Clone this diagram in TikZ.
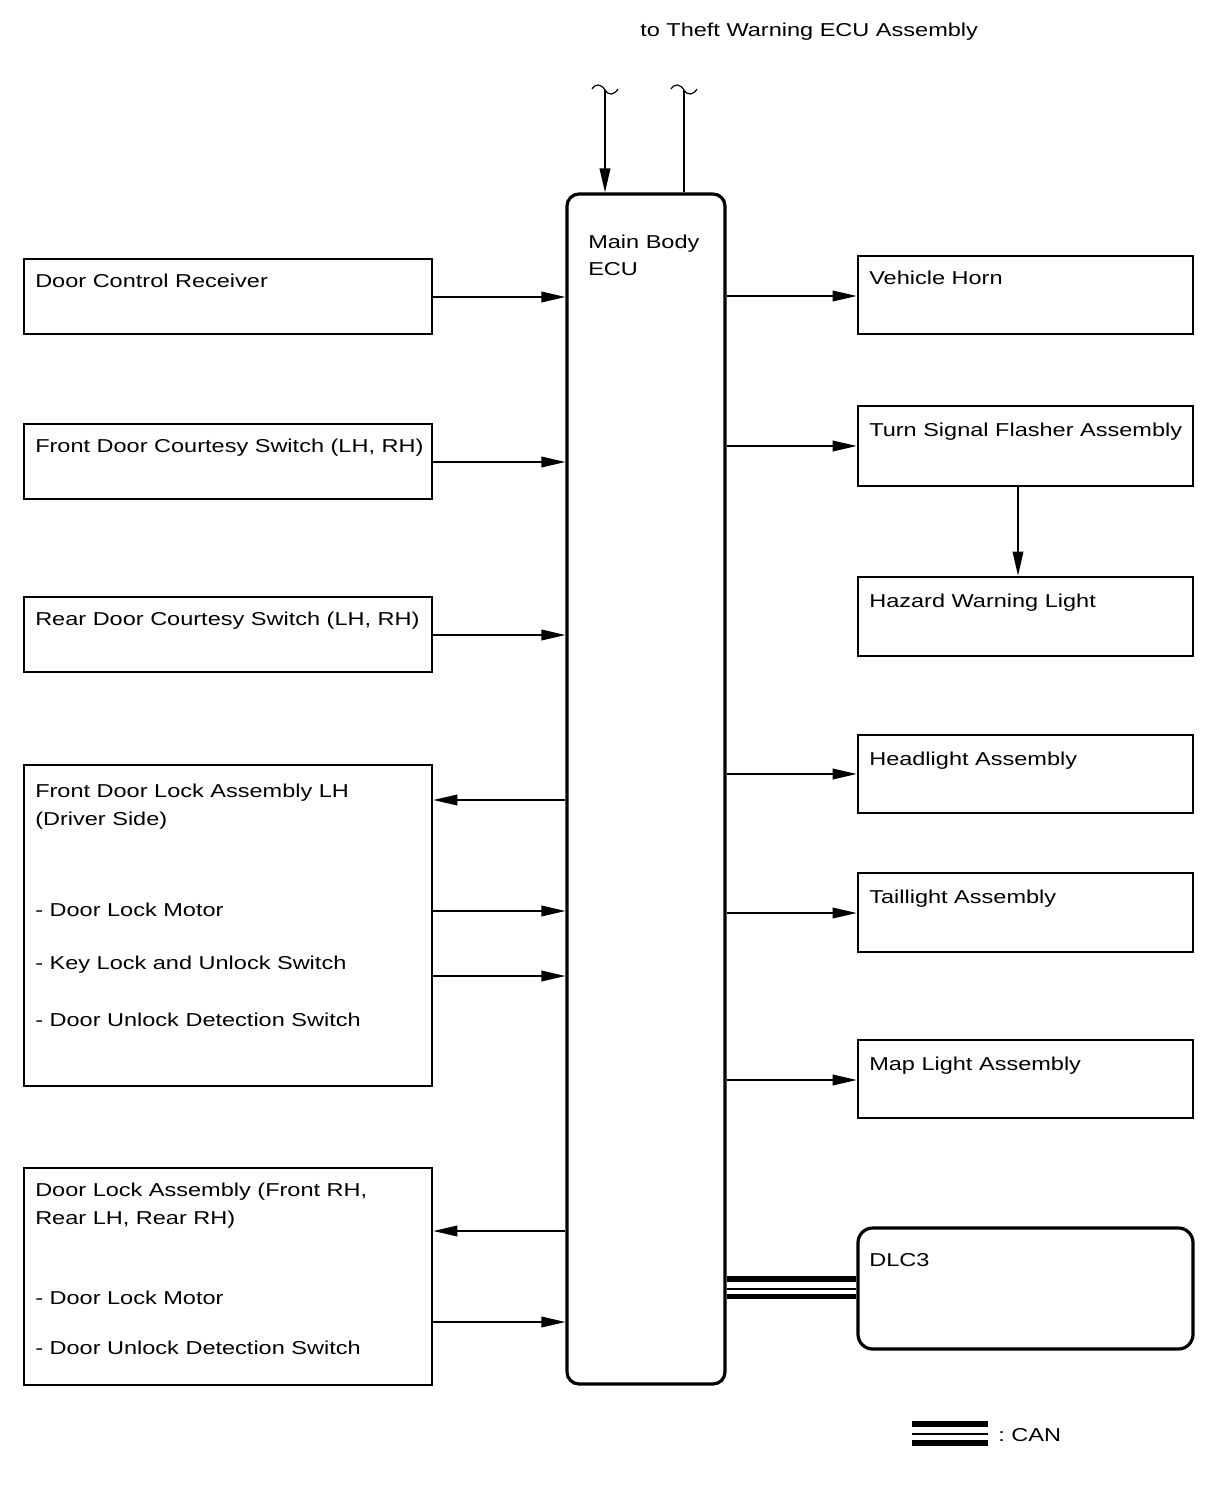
\documentclass[tikz,border=0pt]{standalone}
\usepackage{fontspec}
\setmainfont{Liberation Sans}[FakeStretch=1.26]
\usetikzlibrary{arrows.meta,fit}
\begin{document}
\begin{tikzpicture}[x=0.75pt,y=-0.75pt,
 box/.style={draw,line width=2pt,inner sep=0pt},
 ecubox/.style={draw,line width=2.4pt,rounded corners=9pt,inner sep=0pt},
 lbl/.style={anchor=base west,inner sep=0pt,font=\fontsize{14}{21}\selectfont},
 arr/.style={line width=1.1pt,-{Triangle[length=18pt,width=8pt]}},
 ln/.style={line width=1.1pt},
 wavy/.style={line width=0.9pt},
]
\useasboundingbox (0,0) rectangle (1210,1498);

% main ECU
\node[ecubox,fit={(567,194)(725,1384)}] (ecu) {};
\node[lbl] (ecut1) at (588,248) {Main Body};
\node[lbl] (ecut2) at (588,276) {ECU};

% left boxes
\node[box,fit={(24,259)(432,334)}] (dcr) {};
\node[lbl] at (35,287) {Door Control Receiver};
\node[box,fit={(24,424)(432,499)}] (fdcs) {};
\node[lbl] at (35,452) {Front Door Courtesy Switch (LH, RH)};
\node[box,fit={(24,597)(432,672)}] (rdcs) {};
\node[lbl] at (35,625) {Rear Door Courtesy Switch (LH, RH)};
\node[box,fit={(24,765)(432,1086)}] (fdl) {};
\node[lbl] at (35,797) {Front Door Lock Assembly LH};
\node[lbl] at (35,825) {(Driver Side)};
\node[lbl] at (35,916) {- Door Lock Motor};
\node[lbl] at (35,969) {- Key Lock and Unlock Switch};
\node[lbl] at (35,1026) {- Door Unlock Detection Switch};
\node[box,fit={(24,1168)(432,1385)}] (dla) {};
\node[lbl] at (35,1196) {Door Lock Assembly (Front RH,};
\node[lbl] at (35,1224) {Rear LH, Rear RH)};
\node[lbl] at (35,1304) {- Door Lock Motor};
\node[lbl] at (35,1354) {- Door Unlock Detection Switch};

% right boxes
\node[box,fit={(858,256)(1193,334)}] (horn) {};
\node[lbl] at (869,284) {Vehicle Horn};
\node[box,fit={(858,406)(1193,486)}] (tsf) {};
\node[lbl] at (869,436) {Turn Signal Flasher Assembly};
\node[box,fit={(858,577)(1193,656)}] (haz) {};
\node[lbl] at (869,607) {Hazard Warning Light};
\node[box,fit={(858,735)(1193,813)}] (head) {};
\node[lbl] at (869,765) {Headlight Assembly};
\node[box,fit={(858,873)(1193,952)}] (tail) {};
\node[lbl] at (869,903) {Taillight Assembly};
\node[box,fit={(858,1040)(1193,1118)}] (map) {};
\node[lbl] at (869,1070) {Map Light Assembly};
\node[ecubox,rounded corners=11pt,fit={(858,1228)(1193,1349)}] (dlc) {};
\node[lbl] at (869,1266) {DLC3};

% top
\node[lbl] (theft) at (640,37) {to Theft Warning ECU Assembly};
\coordinate (t1) at (605,90);
\coordinate (t2) at (684,90);
\foreach \c in {t1,t2}{
  \draw[wavy] ([shift={(-13,-1)}]\c) .. controls ([shift={(-9,-7)}]\c) and ([shift={(-4,-6)}]\c) .. (\c)
     .. controls ([shift={(4,6)}]\c) and ([shift={(9,5)}]\c) .. ([shift={(13,-1)}]\c);
}
\draw[arr] (t1) -- (t1 |- ecu.north);
\draw[ln] (t2) -- (t2 |- ecu.north);

% left connectors
\draw[arr] (dcr.east |- 0,297) -- (ecu.west |- 0,297);
\draw[arr] (fdcs.east |- 0,462) -- (ecu.west |- 0,462);
\draw[arr] (rdcs.east |- 0,635) -- (ecu.west |- 0,635);
\draw[arr] (ecu.west |- 0,800) -- (fdl.east |- 0,800);
\draw[arr] (fdl.east |- 0,911) -- (ecu.west |- 0,911);
\draw[arr] (fdl.east |- 0,976) -- (ecu.west |- 0,976);
\draw[arr] (ecu.west |- 0,1231) -- (dla.east |- 0,1231);
\draw[arr] (dla.east |- 0,1322) -- (ecu.west |- 0,1322);

% right connectors
\draw[arr] (ecu.east |- 0,296) -- (horn.west |- 0,296);
\draw[arr] (ecu.east |- 0,446) -- (tsf.west |- 0,446);
\draw[arr] (tsf.south -| 1018,0) -- (haz.north -| 1018,0);
\draw[arr] (ecu.east |- 0,774) -- (head.west |- 0,774);
\draw[arr] (ecu.east |- 0,913) -- (tail.west |- 0,913);
\draw[arr] (ecu.east |- 0,1080) -- (map.west |- 0,1080);

% CAN
\draw[line width=4.4pt] (ecu.east |- 0,1279) -- (dlc.west |- 0,1279);
\draw[line width=1.5pt] (ecu.east |- 0,1288.5) -- (dlc.west |- 0,1288.5);
\draw[line width=4.4pt] (ecu.east |- 0,1296.5) -- (dlc.west |- 0,1296.5);

% legend
\node[lbl] (canlbl) at (998,1441) {:\ CAN};
\coordinate (lga) at (912,1424);
\coordinate (lgb) at (988,1424);
\draw[line width=4.4pt] (lga) -- (lgb);
\draw[line width=1.5pt] ([yshift=-7.5pt]lga) -- ([yshift=-7.5pt]lgb);
\draw[line width=4.4pt] ([yshift=-14.5pt]lga) -- ([yshift=-14.5pt]lgb);
\end{tikzpicture}
\end{document}
